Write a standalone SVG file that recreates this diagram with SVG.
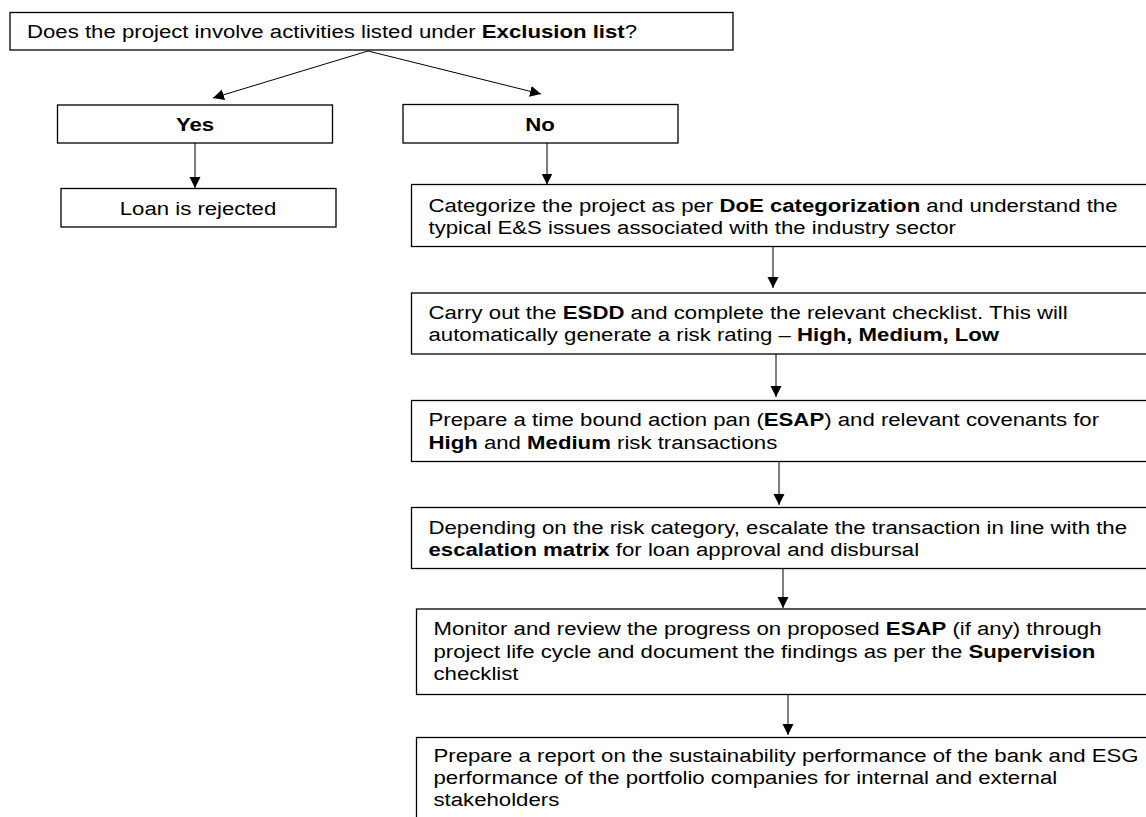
<svg xmlns="http://www.w3.org/2000/svg" width="1146" height="817" viewBox="0 0 1146 817">
<style>
.box{fill:#fff;stroke:#000;stroke-width:1.3}
.t{font-family:"Liberation Sans",Arial,sans-serif;font-size:19px;fill:#000}
.b{font-weight:bold}
.c{stroke:#000;stroke-width:1;fill:none;marker-end:url(#ah)}
</style>
<defs>
<marker id="ah" markerUnits="userSpaceOnUse" markerWidth="12" markerHeight="12" refX="11" refY="5.5" orient="auto">
<path d="M0,0 L11,5.5 L0,11 Z" fill="#000"/>
</marker>
</defs>
<rect width="1146" height="817" fill="#fff"/>
<g id="connectors">
<line class="c" x1="368" y1="51" x2="213" y2="98"/>
<line class="c" x1="368" y1="51" x2="541" y2="94"/>
<line class="c" x1="195" y1="143" x2="195" y2="188"/>
<line class="c" x1="547" y1="143" x2="547" y2="184.5"/>
<line class="c" x1="773" y1="246.5" x2="773" y2="288"/>
<line class="c" x1="776" y1="354" x2="776" y2="397"/>
<line class="c" x1="779" y1="461" x2="779" y2="505"/>
<line class="c" x1="783" y1="568" x2="783" y2="608"/>
<line class="c" x1="788" y1="694" x2="788" y2="735"/>
</g>
<g id="q">
<rect class="box" x="10" y="12.5" width="723" height="37.5"/>
<text class="t" transform="translate(27 37.5) scale(1.168 1)">Does the project involve activities listed under <tspan class="b">Exclusion list</tspan>?</text>
</g>
<g id="yes">
<rect class="box" x="57.5" y="105" width="275" height="38"/>
<text class="t b" text-anchor="middle" transform="translate(195 131) scale(1.168 1)">Yes</text>
</g>
<g id="no">
<rect class="box" x="403" y="104.5" width="275" height="38.5"/>
<text class="t b" text-anchor="middle" transform="translate(540 131) scale(1.168 1)">No</text>
</g>
<g id="rejected">
<rect class="box" x="61" y="188.5" width="275" height="38.5"/>
<text class="t" text-anchor="middle" transform="translate(198 214.5) scale(1.168 1)">Loan is rejected</text>
</g>
<g id="categorize">
<rect class="box" x="411.5" y="184.5" width="745" height="62"/>
<text class="t" transform="translate(428.5 211.5) scale(1.168 1)">Categorize the project as per <tspan class="b">DoE categorization</tspan> and understand the</text>
<text class="t" transform="translate(428.5 234) scale(1.168 1)">typical E&amp;S issues associated with the industry sector</text>
</g>
<g id="esdd">
<rect class="box" x="411.5" y="293" width="745" height="61"/>
<text class="t" transform="translate(428.5 318.5) scale(1.168 1)">Carry out the <tspan class="b">ESDD</tspan> and complete the relevant checklist. This will</text>
<text class="t" transform="translate(428.5 341) scale(1.168 1)">automatically generate a risk rating – <tspan class="b">High, Medium, Low</tspan></text>
</g>
<g id="esap">
<rect class="box" x="411.5" y="400.5" width="745" height="61"/>
<text class="t" transform="translate(428.5 426) scale(1.168 1)">Prepare a time bound action pan (<tspan class="b">ESAP</tspan>) and relevant covenants for</text>
<text class="t" transform="translate(428.5 448.5) scale(1.168 1)"><tspan class="b">High</tspan> and <tspan class="b">Medium</tspan> risk transactions</text>
</g>
<g id="escalate">
<rect class="box" x="411.5" y="507.5" width="745" height="61"/>
<text class="t" transform="translate(428.5 533.5) scale(1.168 1)">Depending on the risk category, escalate the transaction in line with the</text>
<text class="t" transform="translate(428.5 556) scale(1.168 1)"><tspan class="b">escalation matrix</tspan> for loan approval and disbursal</text>
</g>
<g id="monitor">
<rect class="box" x="416.5" y="609" width="745" height="85.5"/>
<text class="t" transform="translate(433.5 635) scale(1.168 1)">Monitor and review the progress on proposed <tspan class="b">ESAP</tspan> (if any) through</text>
<text class="t" transform="translate(433.5 657.5) scale(1.168 1)">project life cycle and document the findings as per the <tspan class="b">Supervision</tspan></text>
<text class="t" transform="translate(433.5 680) scale(1.168 1)">checklist</text>
</g>
<g id="report">
<rect class="box" x="416.5" y="737.5" width="745" height="100"/>
<text class="t" transform="translate(433.5 762) scale(1.168 1)">Prepare a report on the sustainability performance of the bank and ESG</text>
<text class="t" transform="translate(433.5 784) scale(1.168 1)">performance of the portfolio companies for internal and external</text>
<text class="t" transform="translate(433.5 806) scale(1.168 1)">stakeholders</text>
</g>
</svg>
